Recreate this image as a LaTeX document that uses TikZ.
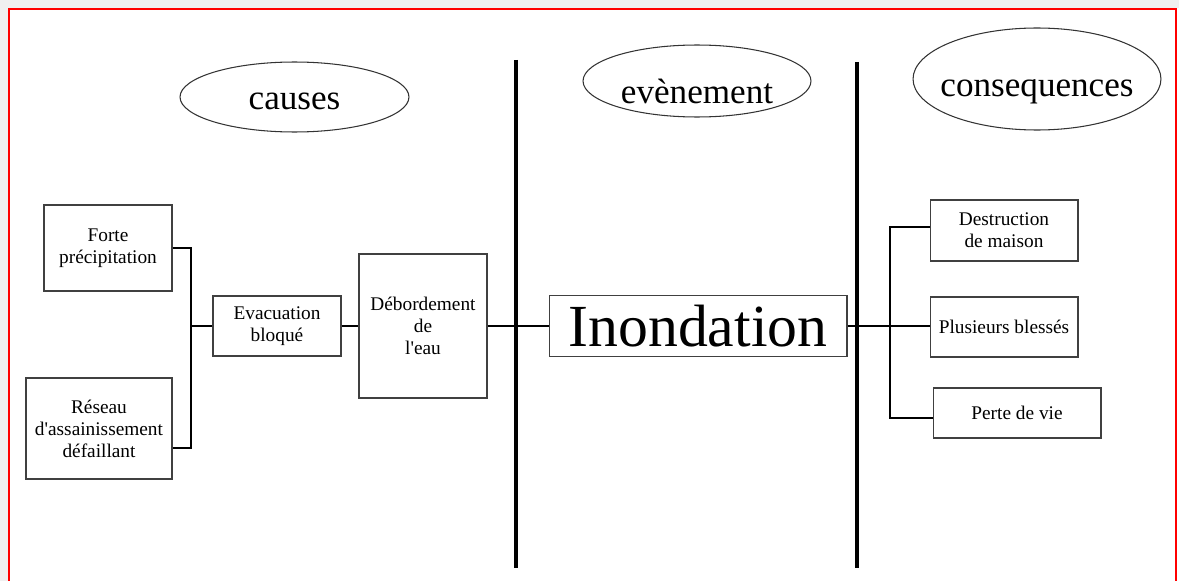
\documentclass[tikz,border=0pt]{standalone}
\usepackage{fontspec}
\setmainfont{Liberation Serif}[Ligatures=TeXOff]
\usetikzlibrary{shapes.geometric,calc}
\newcommand{\ovalfont}{\fontsize{20}{24}\selectfont}
\begin{document}
\begin{tikzpicture}[x=0.02cm,y=-0.02cm,
    box/.style={draw=black!75,line width=0.6pt,align=center,inner sep=0pt,font=\fontsize{11}{12.5}\selectfont},
    oval/.style 2 args={ellipse,draw=black!80,line width=0.6pt,inner sep=0pt,label={[font=\ovalfont,yshift=#2]center:#1}},
    link/.style={line width=1.7pt},
    fine/.style={line width=0.8pt},
    wall/.style={line width=2.3pt}]
    \useasboundingbox (0,0) rectangle (1179,581);
    \fill[gray!12] (0,0) rectangle (1179,8) (0,0) rectangle (8,581);
    \draw[red,line width=1.2pt] (9,600) -- (9,9) -- (1176,9) -- (1176,600);
    \node[oval={causes}{-2.3pt},minimum width=4.58cm,minimum height=1.4cm] (causes) at (294.5,97) {};
    \node[oval={evènement}{-5.7pt},minimum width=4.56cm,minimum height=1.44cm] (evenement) at (697,81) {};
    \node[oval={consequences}{-7pt},minimum width=4.96cm,minimum height=2.04cm] (consequences) at (1037,79) {};
    \draw[wall] (516,60) -- (516,568);
    \draw[wall] (857,62) -- (857,568);
    \node[box,minimum width=2.56cm,minimum height=1.72cm] (forte) at (108,248) {Forte\\précipitation};
    \node[box,minimum width=2.92cm,minimum height=2.02cm] (reseau) at (99,428.5) {Réseau\\d'assainissement\\défaillant};
    \node[box,minimum width=2.56cm,minimum height=1.2cm] (evac) at (277,326) {Evacuation\\bloqué};
    \node[box,minimum width=2.56cm,minimum height=2.88cm] (debord) at (423,326) {Débordement\\de\\l'eau};
    \node[box,minimum width=5.96cm,minimum height=1.22cm,font=\fontsize{34}{36}\selectfont] (inond) at (698,326) {Inondation};
    \node[box,minimum width=2.96cm,minimum height=1.22cm] (destr) at (1004,230.5) {Destruction\\de maison};
    \node[box,minimum width=2.96cm,minimum height=1.2cm] (bless) at (1004,327) {Plusieurs blessés};
    \node[box,minimum width=3.36cm,minimum height=1.0cm] (perte) at (1017,413) {Perte de vie};
    \coordinate (jl) at (191,326);
    \coordinate (jr) at (890,326);
    \draw[fine] (forte.east) -| (jl) |- ($(reseau.east)+(0,19.5)$);
    \draw[link] (jl) -- (evac.west);
    \draw[link] (evac) -- (debord);
    \draw[link] (debord) -- (inond);
    \draw[link] (inond.east) -- (inond.east -| bless.west);
    \draw[fine] ($(destr.west)+(0,-3.5)$) -| (jr) |- ($(perte.west)+(0,5)$);
\end{tikzpicture}
\end{document}
